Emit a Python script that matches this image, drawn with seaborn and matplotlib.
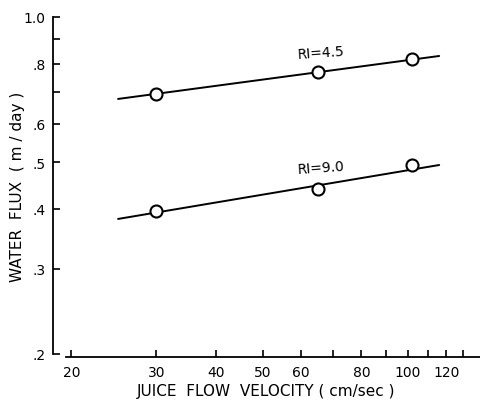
import numpy as np
import pandas as pd
import matplotlib
matplotlib.use("Agg")
import matplotlib.pyplot as plt
import seaborn as sns
from matplotlib.ticker import FixedLocator, FixedFormatter, NullFormatter

# ---- data ----
velocity = [30, 65, 102]
flux_ri45 = [0.692, 0.769, 0.818]
flux_ri90 = [0.396, 0.440, 0.493]
fit_x = [25, 116]
fit_ri45 = [0.676, 0.830]
fit_ri90 = [0.381, 0.493]

x_ticks = [20, 30, 40, 50, 60, 80, 100, 120]
x_tick_labels = ["20", "30", "40", "50", "60", "80", "100", "120"]
x_minor = [70, 90, 110, 130]
y_ticks = [0.2, 0.3, 0.4, 0.5, 0.6, 0.8, 1.0]
y_tick_labels = [".2", ".3", ".4", ".5", ".6", ".8", "1.0"]
y_minor = [0.7, 0.9]

pts = pd.DataFrame({
    "velocity": velocity * 2,
    "flux": flux_ri45 + flux_ri90,
    "series": ["RI=4.5"] * 3 + ["RI=9.0"] * 3,
})
fits = pd.DataFrame({
    "velocity": fit_x * 2,
    "flux": fit_ri45 + fit_ri90,
    "series": ["RI=4.5"] * 2 + ["RI=9.0"] * 2,
})

sns.set_style("ticks")
plt.rcParams["font.family"] = ["DejaVu Sans"]
plt.rcParams["text.color"] = "black"
plt.rcParams["axes.labelcolor"] = "black"
plt.rcParams["axes.edgecolor"] = "black"

fig = plt.figure(figsize=(4.8, 4.02), dpi=100)
ax = fig.add_axes([0.110, 0.1095, 0.890, 0.8535])

sns.lineplot(data=fits, x="velocity", y="flux", units="series", estimator=None,
             color="black", lw=1.4, ax=ax, legend=False)
sns.scatterplot(data=pts, x="velocity", y="flux", ax=ax, s=75, marker="o",
                facecolor="white", edgecolor="black", linewidth=1.5, legend=False, zorder=3)

ax.set_xscale("log")
ax.set_yscale("log")
ax.set_xlim(18.3, 141)
ax.set_ylim(0.197, 1.015)

ax.xaxis.set_major_locator(FixedLocator(x_ticks))
ax.xaxis.set_major_formatter(FixedFormatter(x_tick_labels))
ax.xaxis.set_minor_locator(FixedLocator(x_minor))
ax.xaxis.set_minor_formatter(NullFormatter())
ax.yaxis.set_major_locator(FixedLocator(y_ticks))
ax.yaxis.set_major_formatter(FixedFormatter(y_tick_labels))
ax.yaxis.set_minor_locator(FixedLocator(y_minor))
ax.yaxis.set_minor_formatter(NullFormatter())

ax.tick_params(which="both", direction="in", length=5, width=1.2, labelsize=10,
               colors="black")
ax.tick_params(axis="x", pad=6)
ax.tick_params(axis="y", pad=5)

for s in ["top", "right"]:
    ax.spines[s].set_visible(False)
ax.spines["left"].set_linewidth(1.3)
ax.spines["bottom"].set_linewidth(1.3)
ax.spines["left"].set_bounds(0.2, 1.0)
ax.spines["bottom"].set_bounds(19.5, 141)

ax.set_xlabel("JUICE  FLOW  VELOCITY ( cm/sec )", fontsize=11, labelpad=3)
ax.set_ylabel("WATER  FLUX  ( m / day )", fontsize=11)
ax.yaxis.set_label_coords(-0.066, 0.50)

ax.text(66, 0.845, "RI=4.5", fontsize=10, ha="center", va="center", rotation=4)
ax.text(66, 0.488, "RI=9.0", fontsize=10, ha="center", va="center", rotation=4)

fig.savefig("out.png", dpi=100)
